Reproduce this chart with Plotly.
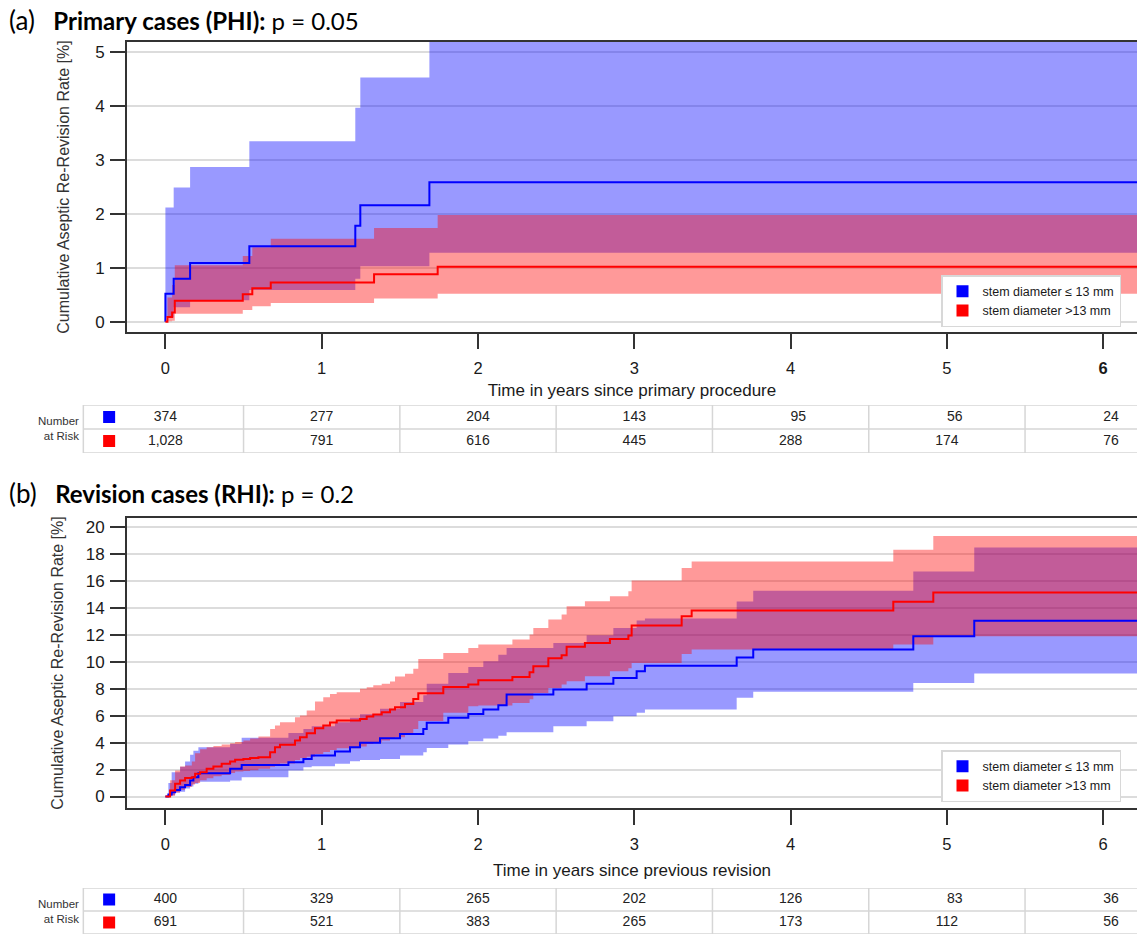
import plotly.graph_objects as go

END = 6.3

# ---------------- Panel (a): Primary cases ----------------
a_blue_t = [0, 0.053, 0.158, 0.537, 1.215, 1.247, 1.689]
a_blue = [0.52, 0.80, 1.09, 1.40, 1.78, 2.16, 2.59]
a_blue_hi = [2.12, 2.49, 2.87, 3.35, 3.97, 4.53, 6.5]
a_blue_lo = [0.08, 0.27, 0.40, 0.59, 0.80, 1.03, 1.28]

a_red_t = [0, 0.013, 0.043, 0.06, 0.495, 0.556, 0.674, 1.335, 1.742]
a_red = [0, 0.09, 0.17, 0.39, 0.51, 0.62, 0.73, 0.88, 1.02]
a_red_hi = [0, 0.45, 0.68, 1.05, 1.22, 1.38, 1.54, 1.74, 1.98]
a_red_lo = [0, 0.01, 0.02, 0.15, 0.22, 0.29, 0.35, 0.43, 0.52]

# ---------------- Panel (b): Revision cases ----------------
b_blue_t = [0, 0.019, 0.040, 0.062, 0.094, 0.126, 0.158, 0.179, 0.211, 0.414, 0.488,
            0.787, 0.883, 0.936, 1.085, 1.181, 1.245, 1.373, 1.501, 1.650, 1.672, 1.810,
            1.938, 2.034, 2.130, 2.183, 2.482, 2.695, 2.866, 3.015, 3.068, 3.655, 3.761,
            4.785, 5.175]
b_blue = [0, 0.15, 0.32, 0.49, 0.69, 0.86, 1.19, 1.43, 1.73, 2.05, 2.33,
          2.54, 2.79, 3.04, 3.33, 3.65, 3.98, 4.32, 4.64, 5.01, 5.46, 5.83,
          6.12, 6.44, 6.77, 7.56, 7.93, 8.35, 8.79, 9.28, 9.70, 10.30, 10.89,
          11.87, 13.03]
b_blue_hi = [0, 1.0, 1.8, 1.8, 2.2, 2.6, 3.1, 3.4, 3.65, 3.9, 4.35,
             4.7, 5.0, 5.2, 5.5, 5.83, 6.1, 6.5, 7.0, 7.5, 8.35, 9.16,
             9.6, 10.02, 10.5, 11.01, 11.38, 11.95, 12.49, 13.04, 13.2, 14.45, 15.25,
             16.67, 18.45]
b_blue_lo = [0, 0.03, 0.1, 0.3, 0.35, 0.6, 0.75, 0.94, 1.1, 1.19, 1.43,
             1.93, 2.17, 2.25, 2.42, 2.62, 2.7, 2.79, 3.04, 3.28, 3.6, 3.85,
             4.1, 4.3, 4.5, 4.77, 5.21, 5.58, 5.95, 6.2, 6.44, 7.32, 7.76,
             8.42, 9.11]

b_red_t = [0, 0.030, 0.062, 0.094, 0.126, 0.169, 0.190, 0.222, 0.264, 0.307, 0.360,
           0.414, 0.446, 0.499, 0.542, 0.595, 0.670, 0.701, 0.733, 0.829, 0.861, 0.904,
           0.957, 1.010, 1.053, 1.096, 1.245, 1.288, 1.330, 1.384, 1.437, 1.469, 1.533,
           1.586, 1.618, 1.778, 1.938, 2.002, 2.220, 2.330, 2.354, 2.450, 2.535, 2.567,
           2.684, 2.844, 2.962, 2.983, 3.303, 3.367, 4.657, 4.913]
b_red = [0, 0.44, 0.94, 1.19, 1.38, 1.43, 1.68, 1.80, 2.05, 2.22, 2.42,
         2.59, 2.72, 2.79, 2.86, 2.91, 3.28, 3.65, 3.83, 4.15, 4.40, 4.69,
         5.06, 5.26, 5.48, 5.63, 5.75, 5.93, 6.07, 6.25, 6.44, 6.62, 6.86,
         7.23, 7.65, 8.12, 8.30, 8.62, 8.86, 9.21, 9.65, 10.25, 10.47, 11.09,
         11.38, 11.68, 11.93, 12.67, 13.36, 13.78, 14.43, 15.12]
b_red_hi = [0, 1.2, 1.93, 2.22, 2.3, 2.6, 3.2, 3.5, 3.65, 3.75, 3.85,
            3.95, 4.05, 4.15, 4.3, 4.45, 5.0, 5.26, 5.5, 5.88, 6.0, 6.37,
            7.04, 7.36, 7.6, 7.73, 7.98, 8.1, 8.25, 8.35, 8.52, 8.89, 9.09,
            9.46, 10.2, 10.64, 11.01, 11.26, 11.63, 12.0, 12.49, 13.11, 13.48, 14.1,
            14.47, 14.84, 15.21, 16.0, 16.94, 17.41, 18.28, 19.31]
b_red_lo = [0, 0.05, 0.3, 0.5, 0.7, 0.9, 1.0, 1.2, 1.35, 1.5, 1.6,
            1.75, 1.85, 1.9, 1.95, 2.05, 2.2, 2.35, 2.45, 2.7, 2.85, 2.95,
            3.16, 3.3, 3.45, 3.58, 3.7, 3.9, 4.0, 4.15, 4.27, 4.4, 4.64,
            5.01, 5.6, 6.2, 6.69, 6.75, 6.94, 7.2, 7.68, 8.05, 8.3, 8.54,
            8.91, 9.28, 9.5, 9.9, 10.57, 10.89, 11.26, 11.87]

# ---------------- Numbers at risk ----------------
risk_years = [0, 1, 2, 3, 4, 5, 6]
a_risk_blue = [374, 277, 204, 143, 95, 56, 24]
a_risk_red = [1028, 791, 616, 445, 288, 174, 76]
b_risk_blue = [400, 329, 265, 202, 126, 83, 36]
b_risk_red = [691, 521, 383, 265, 173, 112, 56]

x_ticks = [0, 1, 2, 3, 4, 5, 6]
a_y_ticks = [0, 1, 2, 3, 4, 5]
b_y_ticks = [0, 2, 4, 6, 8, 10, 12, 14, 16, 18, 20]

label_blue = "stem diameter ≤ 13 mm"
label_red = "stem diameter >13 mm"

BLUE = "#0000ff"
RED = "#ff0000"
BLUE_FILL = "rgba(0,0,255,0.40)"
RED_FILL = "rgba(255,0,0,0.40)"
FONT = "Liberation Sans, Arial, Helvetica, sans-serif"
TITLE_FONT = "Lato, Open Sans, sans-serif"
TXT = "#1a1a1a"

fig = go.Figure()


def step_ext(t, v, start_zero=False):
    xs = list(t) + [END]
    ys = list(v) + [v[-1]]
    if start_zero and ys[0] != 0:
        xs = [0] + xs
        ys = [0] + ys
    return xs, ys


def add_panel(xa, ya, bt, bv, bhi, blo, rt, rv, rhi, rlo):
    for t, lo, hi, fc in [(bt, blo, bhi, BLUE_FILL), (rt, rlo, rhi, RED_FILL)]:
        x1, y1 = step_ext(t, lo)
        x2, y2 = step_ext(t, hi)
        fig.add_trace(go.Scatter(x=x1, y=y1, mode="lines", line=dict(width=0, shape="hv"),
                                 xaxis=xa, yaxis=ya, showlegend=False, hoverinfo="skip"))
        fig.add_trace(go.Scatter(x=x2, y=y2, mode="lines", line=dict(width=0, shape="hv"),
                                 fill="tonexty", fillcolor=fc,
                                 xaxis=xa, yaxis=ya, showlegend=False, hoverinfo="skip"))
    for t, v, c in [(bt, bv, BLUE), (rt, rv, RED)]:
        xs, ys = step_ext(t, v, start_zero=True)
        fig.add_trace(go.Scatter(x=xs, y=ys, mode="lines", line=dict(width=2, color=c, shape="hv"),
                                 xaxis=xa, yaxis=ya, showlegend=False, hoverinfo="skip"))


add_panel("x", "y", a_blue_t, a_blue, a_blue_hi, a_blue_lo, a_red_t, a_red, a_red_hi, a_red_lo)
add_panel("x2", "y2", b_blue_t, b_blue, b_blue_hi, b_blue_lo, b_red_t, b_red, b_red_hi, b_red_lo)

SQ_X = -0.36


def fmt(n):
    s = f"{n:,}"
    if len(s) < 3:
        s = "\u2007\u2007" + s
    return s


def add_table(xa, ya, blue_vals, red_vals, legend_name):
    # coloured row squares (also used as legend entries)
    fig.add_trace(go.Scatter(x=[SQ_X], y=[1.5], mode="markers",
                             marker=dict(symbol="square", size=12, color=BLUE),
                             name=label_blue, legend=legend_name, showlegend=True,
                             xaxis=xa, yaxis=ya, hoverinfo="skip", cliponaxis=False))
    fig.add_trace(go.Scatter(x=[SQ_X], y=[0.5], mode="markers",
                             marker=dict(symbol="square", size=12, color=RED),
                             name=label_red, legend=legend_name, showlegend=True,
                             xaxis=xa, yaxis=ya, hoverinfo="skip", cliponaxis=False))
    for vals, yy in [(blue_vals, 1.5), (red_vals, 0.5)]:
        fig.add_trace(go.Scatter(x=risk_years, y=[yy] * len(risk_years), mode="text",
                                 text=[fmt(n) for n in vals],
                                 textfont=dict(family=FONT, size=14, color="#222222"),
                                 textposition="middle center",
                                 xaxis=xa, yaxis=ya, showlegend=False, hoverinfo="skip",
                                 cliponaxis=False))


add_table("x3", "y3", a_risk_blue, a_risk_red, "legend")
add_table("x4", "y4", b_risk_blue, b_risk_red, "legend2")

shapes = []
GRID_C = "#d6d6d6"
for xr, yr in [("x3", "y3"), ("x4", "y4")]:
    for yy in [0, 1, 2]:
        shapes.append(dict(type="line", xref=xr, yref=yr, x0=-0.525, x1=6.4, y0=yy, y1=yy,
                           line=dict(color=GRID_C, width=1.5)))
    for xx in [-0.525, 0.5, 1.5, 2.5, 3.5, 4.5, 5.5]:
        shapes.append(dict(type="line", xref=xr, yref=yr, x0=xx, x1=xx, y0=0, y1=2,
                           line=dict(color=GRID_C, width=1.5)))

SP = "&nbsp;" * 3
annotations = [
    dict(text=f"<span style='font-size:26px'>(a)</span>{SP}<b>Primary cases (PHI):</b> p = 0.05",
         xref="paper", yref="paper",
         x=7 / 1137, y=1 - 20 / 935, xanchor="left", yanchor="middle", showarrow=False,
         font=dict(family=TITLE_FONT, size=24, color="#000000")),
    dict(text=f"<span style='font-size:26px'>(b)</span>{SP}<b>Revision cases (RHI):</b> p = 0.2",
         xref="paper", yref="paper",
         x=7 / 1137, y=1 - 493 / 935, xanchor="left", yanchor="middle", showarrow=False,
         font=dict(family=TITLE_FONT, size=24, color="#000000")),
    dict(text="Number<br>at Risk", xref="paper", yref="y3", x=81 / 1137, y=1,
         xanchor="right", yanchor="middle", align="right", showarrow=False,
         font=dict(family=FONT, size=11.5, color="#333333")),
    dict(text="Number<br>at Risk", xref="paper", yref="y4", x=81 / 1137, y=1,
         xanchor="right", yanchor="middle", align="right", showarrow=False,
         font=dict(family=FONT, size=11.5, color="#333333")),
]

PX0 = 165.4   # pixel of year 0
PPY = 156.3   # pixels per year
LEFT = 127
XDOM = [LEFT / 1137, 1.0]
XRANGE = [(LEFT - PX0) / PPY, (1137 - PX0) / PPY]
TRANGE = [(0 - PX0) / PPY, (1137 - PX0) / PPY]

common_x = dict(domain=XDOM, range=XRANGE, tickmode="array", tickvals=x_ticks,
                ticks="outside", ticklen=15, tickwidth=1.5, tickcolor="#333333",
                showgrid=False, zeroline=False, showline=True, linecolor="#333333",
                linewidth=2, mirror=True, automargin=False,
                tickfont=dict(family=FONT, size=16.5, color=TXT),
                ticklabelstandoff=5)
common_y = dict(ticks="outside", ticklen=15, tickwidth=1.5, tickcolor="#333333",
                showgrid=True, gridcolor="#dcdcdc", gridwidth=1.5, zeroline=False,
                showline=True, linecolor="#333333", linewidth=2, automargin=False,
                tickfont=dict(family=FONT, size=17, color=TXT),
                ticklabelstandoff=2)


def ytitle(standoff):
    return dict(text="Cumulative Aseptic Re-Revision Rate [%]", standoff=standoff,
                font=dict(family=FONT, size=16, color="#333333"))


fig.update_layout(
    width=1137, height=935,
    margin=dict(l=0, r=0, t=0, b=0),
    paper_bgcolor="white", plot_bgcolor="white",
    font=dict(family=FONT, color=TXT),
    xaxis=dict(common_x, anchor="y",
               ticktext=["0", "1", "2", "3", "4", "5", "<b>6</b>"],
               title=dict(text="Time in years since primary procedure",
                          font=dict(family=FONT, size=17, color=TXT), standoff=8)),
    yaxis=dict(common_y, domain=[1 - 332 / 935, 1 - 42 / 935], range=[-0.19, 5.19],
               anchor="x", tickvals=a_y_ticks, title=ytitle(22)),
    xaxis2=dict(common_x, anchor="y2",
                ticktext=["0", "1", "2", "3", "4", "5", "6"],
                title=dict(text="Time in years since previous revision",
                           font=dict(family=FONT, size=17, color=TXT), standoff=12)),
    yaxis2=dict(common_y, domain=[1 - 808 / 935, 1 - 518 / 935], range=[-0.85, 20.64],
                anchor="x2", tickvals=b_y_ticks, title=ytitle(18)),
    xaxis3=dict(domain=[0, 1], range=TRANGE, anchor="y3", visible=False),
    yaxis3=dict(domain=[1 - 453 / 935, 1 - 405 / 935], range=[0, 2], anchor="x3", visible=False),
    xaxis4=dict(domain=[0, 1], range=TRANGE, anchor="y4", visible=False),
    yaxis4=dict(domain=[1 - 934 / 935, 1 - 888 / 935], range=[0, 2], anchor="x4", visible=False),
    legend=dict(x=1121 / 1137, y=(935 - 327) / 935, xanchor="right", yanchor="bottom",
                bgcolor="white", bordercolor="#d8d8d8", borderwidth=1.5, traceorder="normal",
                font=dict(family=FONT, size=12.5, color=TXT), tracegroupgap=0),
    legend2=dict(x=1121 / 1137, y=(935 - 802) / 935, xanchor="right", yanchor="bottom",
                 bgcolor="white", bordercolor="#d8d8d8", borderwidth=1.5, traceorder="normal",
                 font=dict(family=FONT, size=12.5, color=TXT), tracegroupgap=0),
    shapes=shapes,
    annotations=annotations,
)

fig.write_html("out.html", config={"displayModeBar": False})
